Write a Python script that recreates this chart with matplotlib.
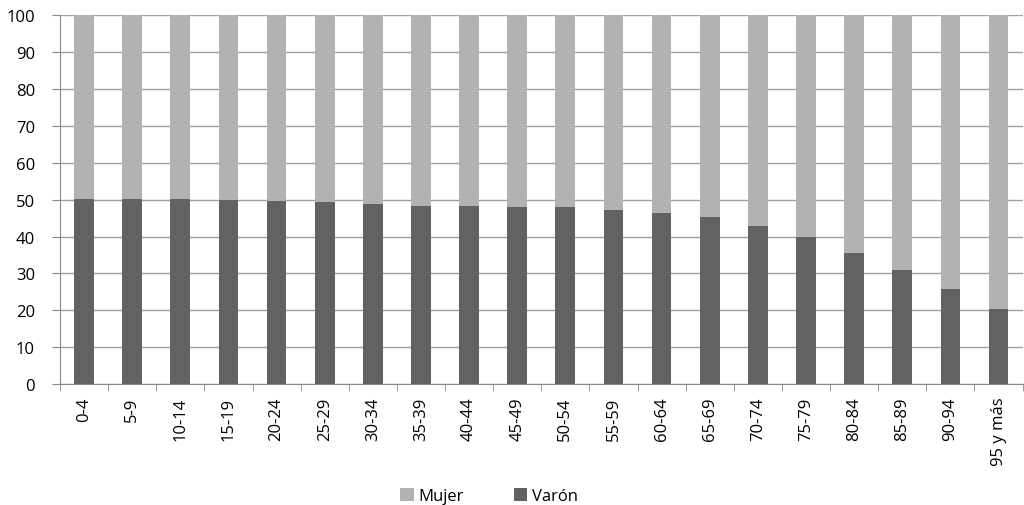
import matplotlib
matplotlib.use("Agg")
import matplotlib.pyplot as plt
import numpy as np

grupos = ["0-4", "5-9", "10-14", "15-19", "20-24", "25-29", "30-34", "35-39",
          "40-44", "45-49", "50-54", "55-59", "60-64", "65-69", "70-74",
          "75-79", "80-84", "85-89", "90-94", "95 y más"]
varon = [50.3, 50.3, 50.3, 50.0, 49.6, 49.3, 48.9, 48.4, 48.3, 48.1,
         48.1, 47.3, 46.5, 45.4, 42.8, 40.0, 35.4, 30.9, 25.8, 20.4]
mujer = [100 - v for v in varon]
yticks = list(range(0, 101, 10))

plt.rcParams['font.family'] = ['Open Sans', 'DejaVu Sans']

fig = plt.figure(figsize=(10.24, 5.06), dpi=100)
ax = fig.add_axes([0.0586, 0.239, 0.94, 0.729])

x = np.arange(len(grupos))
ax.bar(x, varon, width=0.41, color='#616362', label='Varón', zorder=3)
ax.bar(x, mujer, width=0.41, bottom=varon, color='#b2b2b2', label='Mujer', zorder=3)

ax.set_xlim(-0.5, len(grupos) - 0.5)
ax.set_ylim(0, 100)
ax.set_yticks(yticks)
ax.tick_params(axis='y', labelsize=12, length=6, color='#888888', pad=12)
ax.yaxis.grid(True, color='#a0a0a0', linewidth=1, zorder=0)

ax.set_xticks(x)
ax.set_xticklabels(grupos, rotation=90, fontsize=12, va='top')
ax.tick_params(axis='x', length=0, pad=9)
ax.set_xticks(np.arange(-0.5, len(grupos), 1), minor=True)
ax.tick_params(axis='x', which='minor', length=5, color='#888888')

for s in ['top', 'right']:
    ax.spines[s].set_visible(False)
for s in ['left', 'bottom']:
    ax.spines[s].set_color('#888888')

h, l = ax.get_legend_handles_labels()
fig.legend(h[::-1], l[::-1], loc='center', bbox_to_anchor=(0.478, 0.018), ncol=2,
           frameon=False, fontsize=12, handlelength=0.8, handleheight=0.8,
           handletextpad=0.3, columnspacing=3.0)

fig.savefig('out.png', dpi=100)
